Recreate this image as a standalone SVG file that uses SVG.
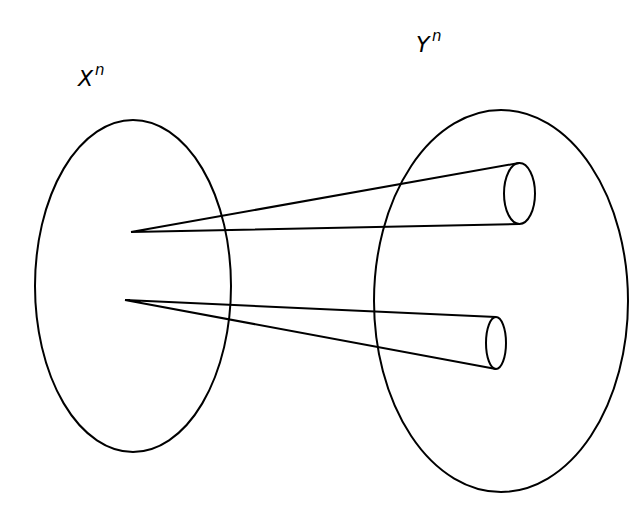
<svg xmlns="http://www.w3.org/2000/svg" width="642" height="512" viewBox="0 0 642 512">
<style>
.s{fill:none;stroke:#000;stroke-width:2}
.t{font-family:"DejaVu Sans",sans-serif;font-style:italic;fill:#000}
</style>
<rect width="642" height="512" fill="#fff"/>
<g id="Xn">
<ellipse class="s" cx="133" cy="286" rx="98" ry="166"/>
<text class="t" x="78" y="86" font-size="22">X</text>
<text class="t" x="95" y="75" font-size="15">n</text>
</g>
<g id="Yn">
<ellipse class="s" cx="501" cy="301" rx="127" ry="191"/>
<text class="t" x="416" y="52" font-size="22">Y</text>
<text class="t" x="432" y="41" font-size="15">n</text>
</g>
<g id="cone1">
<ellipse class="s" cx="519.5" cy="193.5" rx="15.5" ry="30.5"/>
</g>
<g id="cone2">
<ellipse class="s" cx="496" cy="343" rx="10" ry="26"/>
</g>
<g id="connectors">
<path class="s" d="M131 232 L519 163 M131 232 L519 224"/>
<path class="s" d="M125 300 L496 317 M125 300 L496 369"/>
</g>
</svg>
